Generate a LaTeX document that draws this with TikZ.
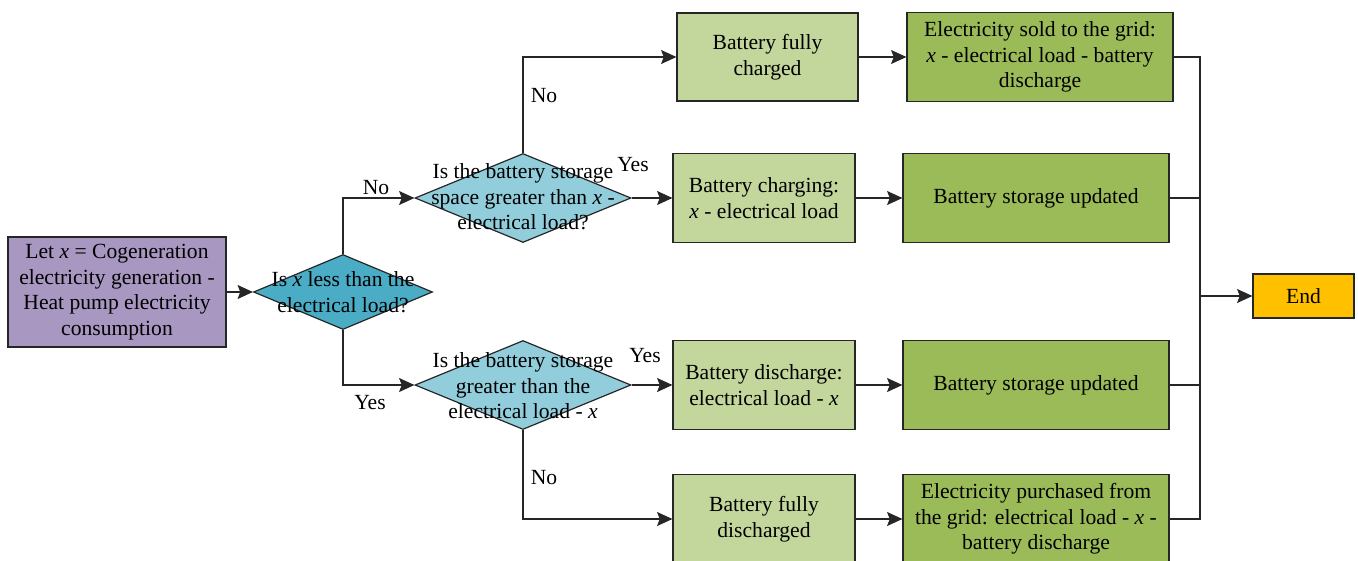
\documentclass[tikz,border=0pt]{standalone}
\usepackage{fontspec}
\setmainfont{Liberation Serif}
\newfontfamily\tnr{Liberation Serif}
\usetikzlibrary{shapes.geometric,arrows.meta}
\definecolor{cpurple}{HTML}{A897C1}
\definecolor{cteal}{HTML}{4BACC6}
\definecolor{clblue}{HTML}{92CDDC}
\definecolor{clgreen}{HTML}{C3D69B}
\definecolor{cdgreen}{HTML}{9BBB59}
\definecolor{cend}{HTML}{FFC000}
\definecolor{cline}{HTML}{262626}
\tikzset{
  txt/.style={font=\tnr\fontsize{16.2}{19.2}\selectfont, align=center, inner sep=0pt},
  box/.style={draw=cline, line width=0.9pt, rectangle, inner sep=0pt, txt},
  dia/.style={draw=cline, line width=0.9pt, diamond, inner sep=0pt},
  arr/.style={draw=cline, line width=0.9pt, -{Stealth[length=11.5pt,width=10.5pt,inset=2pt]}},
  ln/.style={draw=cline, line width=0.9pt},
  lab/.style={txt}
}
\begin{document}
\begin{tikzpicture}[x=0.75pt,y=-0.75pt]
\useasboundingbox (0,0) rectangle (1358,560);
% start
\node[box, fill=cpurple, minimum width=163.5pt, minimum height=82.5pt] (start) at (117,292)
  {Let \textit{x} = Cogeneration\\electricity generation -\\Heat pump electricity\\consumption};
% diamonds
\node[dia, fill=cteal, minimum width=134.25pt, minimum height=56.25pt] (d1) at (343,292) {};
\node[txt] (d1t) at (343,292) {Is \textit{x} less than the\\electrical load?};
\node[dia, fill=clblue, minimum width=162pt, minimum height=66.75pt] (d2) at (523,198) {};
\node[txt] (d2t) at (523,197) {Is the battery storage\\space greater than \textit{x} -\\electrical load?};
\node[dia, fill=clblue, minimum width=162pt, minimum height=66.75pt] (d3) at (523,385) {};
\node[txt] (d3t) at (523,386) {Is the battery storage\\greater than the\\electrical load - \textit{x}};
% light green boxes
\node[box, fill=clgreen, minimum width=135.75pt, minimum height=66pt] (b1) at (767.5,57) {Battery fully\\charged};
\node[box, fill=clgreen, minimum width=136.5pt, minimum height=66.75pt] (b2) at (764,198) {Battery charging:\\\textit{x} - electrical load};
\node[box, fill=clgreen, minimum width=136.5pt, minimum height=66.75pt] (b3) at (764,385) {Battery discharge:\\electrical load - \textit{x}};
\node[box, fill=clgreen, minimum width=136.5pt, minimum height=66.75pt] (b4) at (764,519) {Battery fully\\discharged};
% dark green boxes
\node[box, fill=cdgreen, minimum width=199.5pt, minimum height=66.75pt] (g1) at (1040,57) {Electricity sold to the grid:\\\textit{x} - electrical load - battery\\discharge};
\node[box, fill=cdgreen, minimum width=199.5pt, minimum height=66.75pt] (g2) at (1036,198) {Battery storage updated};
\node[box, fill=cdgreen, minimum width=199.5pt, minimum height=66.75pt] (g3) at (1036,385) {Battery storage updated};
\node[box, fill=cdgreen, minimum width=199.5pt, minimum height=66.75pt] (g4) at (1036,519) {Electricity purchased from\\the grid: electrical load - \textit{x} -\\battery discharge};
% end
\node[box, fill=cend, minimum width=75.75pt, minimum height=33pt] (e) at (1303.5,296) {End};
% connectors
\draw[arr] (start) -- (d1);
\draw[arr] (d1.north) |- (d2.west);
\draw[arr] (d1.south) |- (d3.west);
\draw[arr] (d2.north) |- (b1.west);
\draw[arr] (d2.east) -- (b2.west);
\draw[arr] (d3.east) -- (b3.west);
\draw[arr] (d3.south) |- (b4.west);
\draw[arr] (b1) -- (g1);
\draw[arr] (b2) -- (g2);
\draw[arr] (b3) -- (g3);
\draw[arr] (b4) -- (g4);
\coordinate (jt) at (1200,57);
\coordinate (jb) at (1200,519);
\coordinate (jm) at (1200,296);
\draw[ln] (g1.east) -- (jt) -- (jb) -- (g4.east);
\draw[ln] (g2.east) -- (g2.east -| jt);
\draw[ln] (g3.east) -- (g3.east -| jt);
\draw[arr] (jm) -- (e.west);
% labels
\node[lab] at (376,188) {No};
\node[lab] at (370,403) {Yes};
\node[lab] at (544,96) {No};
\node[lab] at (633,165) {Yes};
\node[lab] at (645,356) {Yes};
\node[lab] at (544,478) {No};
\end{tikzpicture}
\end{document}
